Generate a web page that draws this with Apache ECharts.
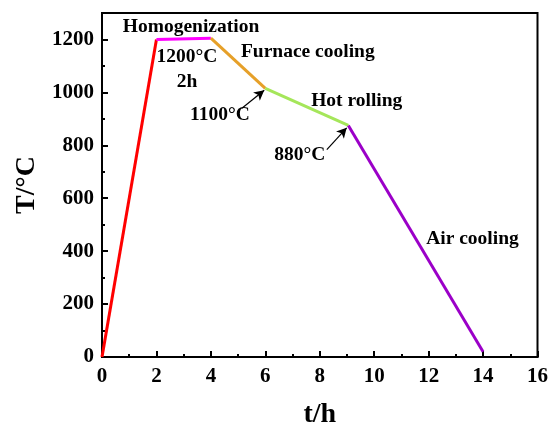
<!DOCTYPE html>
<html><head><meta charset="utf-8">
<script src="https://cdn.jsdelivr.net/npm/echarts@6/dist/echarts.min.js"></script>
<style>html,body{margin:0;padding:0;background:#fff}#c{width:551px;height:434px}</style>
</head><body><div id="c"></div>
<script>
// Data (time in h, temperature in °C)
const heating = [[0, 0], [2, 1200]];
const homogenization = [[2, 1200], [4, 1205]];
const furnaceCooling = [[4, 1205], [6, 1015]];
const hotRolling = [[6, 1015], [9.05, 875]];
const airCooling = [[9.05, 875], [14, 20]];
const xTicks = [0, 2, 4, 6, 8, 10, 12, 14, 16];
const yTicks = [0, 200, 400, 600, 800, 1000, 1200];
const yMinor = [100, 300, 500, 700, 900, 1100];
const arrow1100 = [[5.14, 940], [5.96, 1008]];
const arrow880 = [[8.26, 784], [8.99, 866]];
const notes = [
  ['Homogenization', 3.27, 1248],
  ['1200°C', 3.12, 1133],
  ['2h', 3.12, 1040],
  ['Furnace cooling', 7.56, 1152],
  ['1100°C', 4.33, 914],
  ['Hot rolling', 9.36, 966],
  ['880°C', 7.27, 762],
  ['Air cooling', 13.61, 446]
];

const FONT = 'Liberation Serif';
const chart = echarts.init(document.getElementById('c'), null, {renderer: 'canvas'});
function seg(data, color, extra) {
  return Object.assign({type: 'line', data: data, symbol: 'none', silent: true,
    lineStyle: {color: color, width: 3}, z: 3}, extra || {});
}
function arrowLine(a) {
  return [{coord: a[0]}, {coord: a[1]}];
}
const option = {
  animation: false,
  grid: {left: 102, right: 13, top: 13, bottom: 71, show: true, borderColor: '#000', borderWidth: 2, containLabel: false},
  xAxis: {
    type: 'value', min: 0, max: 16, interval: 2,
    name: 't/h', nameLocation: 'middle', nameGap: 44,
    nameTextStyle: {fontFamily: FONT, fontWeight: 'bold', fontSize: 28, color: '#000'},
    axisLine: {show: true, onZero: false, lineStyle: {color: '#000', width: 2}},
    axisTick: {show: true, inside: true, length: 6, lineStyle: {color: '#000', width: 2}},
    minorTick: {show: true, splitNumber: 2, length: 3, lineStyle: {color: '#000', width: 2}},
    axisLabel: {fontFamily: FONT, fontWeight: 'bold', fontSize: 21, color: '#000', margin: 9},
    splitLine: {show: false}, minorSplitLine: {show: false}
  },
  yAxis: [{
    type: 'value', min: 0, max: 1300, interval: 200,
    name: 'T/°C', nameLocation: 'middle', nameGap: 58, nameRotate: 90,
    nameTextStyle: {fontFamily: FONT, fontWeight: 'bold', fontSize: 28, color: '#000'},
    axisLine: {show: true, onZero: false, lineStyle: {color: '#000', width: 2}},
    axisTick: {show: true, inside: true, length: 6, customValues: yTicks, lineStyle: {color: '#000', width: 2}},
    axisLabel: {fontFamily: FONT, fontWeight: 'bold', fontSize: 21, color: '#000', margin: 8,
      customValues: yTicks, formatter: v => String(v)},
    splitLine: {show: false}
  }, {
    type: 'value', min: 0, max: 1300, position: 'left', offset: 0,
    axisLine: {show: false},
    axisTick: {show: true, inside: true, length: 3, customValues: yMinor, lineStyle: {color: '#000', width: 2}},
    axisLabel: {show: false},
    splitLine: {show: false}
  }],
  series: [
    seg(heating, '#ff0000'),
    seg(homogenization, '#ff00ff'),
    seg(furnaceCooling, '#e6a029'),
    seg(hotRolling, '#a5e65a'),
    seg(airCooling, '#9b00c8', {
      markLine: {
        silent: true, symbol: ['none', 'arrow'], symbolSize: [8, 10],
        lineStyle: {color: '#000', width: 1.2, type: 'solid'},
        label: {show: false},
        data: [arrowLine(arrow1100), arrowLine(arrow880)]
      }
    })
  ]
};
chart.setOption(option);
const g = notes.map(n => {
  const p = chart.convertToPixel({gridIndex: 0}, [n[1], n[2]]);
  return {type: 'text', x: p[0], y: p[1], z: 10,
    style: {text: n[0], fontFamily: FONT, fontWeight: 'bold', fontSize: 19.5, fill: '#000',
      align: 'center', verticalAlign: 'middle'}};
});
chart.setOption({graphic: g});
</script></body></html>
